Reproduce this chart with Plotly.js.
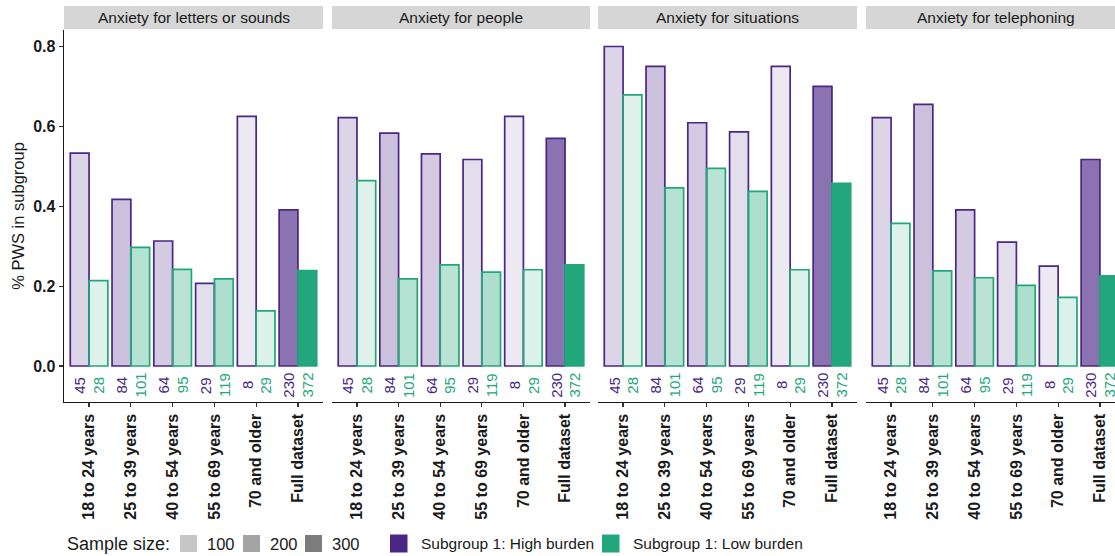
<!DOCTYPE html>
<html>
<head>
<meta charset="utf-8">
<script src="https://cdn.plot.ly/plotly-3.0.1.min.js"></script>
<style>
html,body{margin:0;padding:0;overflow:hidden;background:#fff;}
#chart{width:1125px;height:556px;}
</style>
</head>
<body>
<div id="chart"></div>
<script>
// ---- data ----
const categories = ["18 to 24 years","25 to 39 years","40 to 54 years","55 to 69 years","70 and older","Full dataset"];
const panels = ["Anxiety for letters or sounds","Anxiety for people","Anxiety for situations","Anxiety for telephoning"];
const nHigh = [45, 84, 64, 29, 8, 230];
const nLow  = [28, 101, 95, 119, 29, 372];
const highLetters = [0.533, 0.417, 0.313, 0.207, 0.625, 0.391];
const lowLetters  = [0.214, 0.297, 0.242, 0.218, 0.138, 0.239];
const highPeople  = [0.622, 0.583, 0.531, 0.517, 0.625, 0.570];
const lowPeople   = [0.464, 0.218, 0.253, 0.235, 0.241, 0.253];
const highSituations = [0.800, 0.750, 0.609, 0.586, 0.750, 0.700];
const lowSituations  = [0.679, 0.446, 0.495, 0.437, 0.241, 0.457];
const highPhone = [0.622, 0.655, 0.391, 0.310, 0.250, 0.517];
const lowPhone  = [0.357, 0.238, 0.221, 0.202, 0.172, 0.226];
const highSeries = [highLetters, highPeople, highSituations, highPhone];
const lowSeries  = [lowLetters, lowPeople, lowSituations, lowPhone];
const sizeLegend = [100, 200, 300];
const groupNames = ["Subgroup 1: High burden", "Subgroup 1: Low burden"];

// ---- style ----
const PURPLE = [74, 38, 133];
const GREEN = [34, 166, 124];
const FONT = "Liberation Sans, Arial, sans-serif";
const allN = nHigh.concat(nLow);
const nMin = Math.min(...allN), nMax = Math.max(...allN);
function alphaFor(n){ return 0.1 + 0.9*(n - nMin)/(nMax - nMin); }
function rgba(c,a){ return `rgba(${c[0]},${c[1]},${c[2]},${a})`; }
function rgb(c){ return `rgb(${c[0]},${c[1]},${c[2]})`; }

const L = 64, T = 30, W = 1061, H = 372;
function px(x){ return (x - L)/W; }
function py(y){ return (T + H - y)/H; }
const domains = [[0, px(323)], [px(332), px(590)], [px(598), px(857)], [px(866), 1]];
const yRange = [-(402-366)/399.4, (366-30)/399.4];

const data = [];
const layout = {
  width: 1125, height: 556,
  margin: {l: L, r: 0, t: T, b: 556 - T - H},
  paper_bgcolor: "#fff", plot_bgcolor: "#fff",
  barmode: "group", bargap: 0.1, bargroupgap: 0,
  showlegend: false,
  font: {family: FONT, color: "#1a1a1a"},
  shapes: [], annotations: []
};

panels.forEach((title, p) => {
  const k = p === 0 ? "" : String(p+1);
  const xa = "x" + k, ya = "y" + k;
  [[highSeries[p], nHigh, PURPLE], [lowSeries[p], nLow, GREEN]].forEach(([vals, ns, col], g) => {
    data.push({
      type: "bar", x: categories, y: vals, xaxis: xa, yaxis: ya,
      name: groupNames[g],
      marker: {color: ns.map(n => rgba(col, alphaFor(n))), line: {color: rgb(col), width: 1.7}},
      hoverinfo: "x+y"
    });
    ns.forEach((n, i) => {
      layout.annotations.push({
        xref: xa, yref: ya, x: i + (g === 0 ? -0.225 : 0.225), y: -0.048,
        text: String(n), textangle: -90, showarrow: false,
        font: {family: FONT, size: 15, color: rgb(col)}
      });
    });
  });
  layout["xaxis" + k] = {
    domain: domains[p], anchor: ya, type: "category",
    categoryorder: "array", categoryarray: categories,
    range: [-0.6, 5.6], showline: true, linecolor: "#1a1a1a", linewidth: 1.4,
    ticks: "outside", ticklen: 4, tickcolor: "#333", tickwidth: 1.2,
    tickangle: -90, tickfont: {family: FONT, size: 16, color: "#1a1a1a", weight: "bold"},
    showgrid: false, zeroline: false, fixedrange: true
  };
  layout["yaxis" + k] = {
    domain: [0, 1], anchor: xa, range: yRange,
    showline: p === 0, linecolor: "#1a1a1a", linewidth: 1.4,
    ticks: p === 0 ? "outside" : "", ticklen: 4, tickcolor: "#333", tickwidth: 1.2,
    tickvals: [0, 0.2, 0.4, 0.6, 0.8], tickformat: ".1f",
    showticklabels: p === 0,
    tickfont: {family: FONT, size: 16, color: "#1a1a1a", weight: "bold"},
    showgrid: false, zeroline: false, fixedrange: true,
    title: p === 0 ? {text: "% PWS in subgroup", font: {family: FONT, size: 16.5, color: "#1a1a1a"}, standoff: 4} : undefined
  };
  // facet strip
  layout.shapes.push({
    type: "rect", xref: xa + " domain", yref: "paper",
    x0: 0, x1: 1, y0: 1 + 1/H, y1: 1 + 24/H,
    fillcolor: "#d6d6d6", line: {width: 0}
  });
  layout.annotations.push({
    xref: xa + " domain", yref: "paper", x: 0.5, y: 1 + 12.5/H,
    text: title, showarrow: false, xanchor: "center", yanchor: "middle",
    font: {family: FONT, size: 15.5, color: "#1a1a1a"}
  });
});

// ---- bottom legend ----
const legY = 543.5;
layout.annotations.push({
  xref: "paper", yref: "paper", x: px(65), y: py(legY), xanchor: "left", yanchor: "middle",
  text: "Sample size:", showarrow: false, font: {family: FONT, size: 18, color: "#1a1a1a"}
});
const greyKeys = ["#c6c6c6", "#a4a4a4", "#7c7c7c"];
const sqX = [180, 243, 305];
sizeLegend.forEach((s, i) => {
  layout.shapes.push({type: "rect", xref: "paper", yref: "paper",
    x0: px(sqX[i]), x1: px(sqX[i] + 17), y0: py(legY + 8.5), y1: py(legY - 8.5),
    fillcolor: greyKeys[i], line: {width: 0}});
  layout.annotations.push({xref: "paper", yref: "paper", x: px(sqX[i] + 25), y: py(legY),
    xanchor: "left", yanchor: "middle", text: String(s), showarrow: false,
    font: {family: FONT, size: 16.5, color: "#1a1a1a"}});
});
const grpX = [390, 602];
[PURPLE, GREEN].forEach((col, g) => {
  layout.shapes.push({type: "rect", xref: "paper", yref: "paper",
    x0: px(grpX[g]), x1: px(grpX[g] + 17.5), y0: py(legY + 9), y1: py(legY - 9),
    fillcolor: rgb(col), line: {width: 0}});
  layout.annotations.push({xref: "paper", yref: "paper", x: px(grpX[g] + 29), y: py(legY),
    xanchor: "left", yanchor: "middle", text: groupNames[g], showarrow: false,
    font: {family: FONT, size: 15.5, color: "#1a1a1a"}});
});

Plotly.newPlot("chart", data, layout, {displayModeBar: false, staticPlot: true});
</script>
</body>
</html>
